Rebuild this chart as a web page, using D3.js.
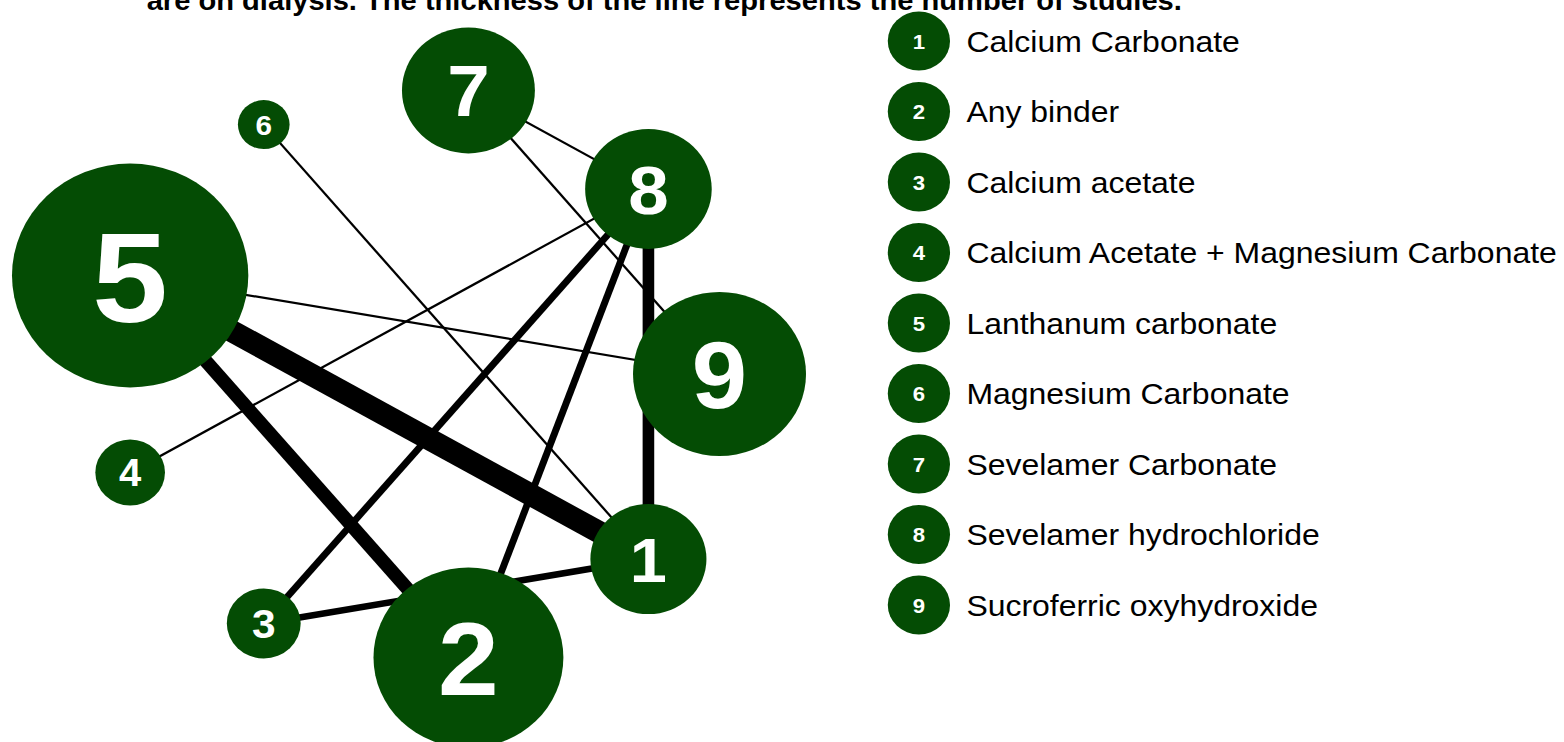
<!DOCTYPE html>
<html>
<head>
<meta charset="utf-8">
<script src="https://cdn.jsdelivr.net/npm/d3@7"></script>
<style>
  html, body { margin: 0; padding: 0; background: #fff; }
  svg { display: block; font-family: "Liberation Sans", Arial, sans-serif; }
</style>
</head>
<body>
<div id="chart-area"></div>
<script>
// Datos de la red
const nodeIds = [1, 2, 3, 4, 5, 6, 7, 8, 9];
const nodeNames = [
    "Calcium Carbonate",
    "Any binder",
    "Calcium acetate",
    "Calcium Acetate + Magnesium Carbonate",
    "Lanthanum carbonate",
    "Magnesium Carbonate",
    "Sevelamer Carbonate",
    "Sevelamer hydrochloride",
    "Sucroferric oxyhydroxide"
];
const nodeSize = [55, 90, 35, 33, 112, 24.5, 63, 60, 82];

// comparaciones: origen, destino, número de estudios
const edgeFrom = [5, 5, 8, 8, 8, 3, 8, 7, 7, 6, 5];
const edgeTo   = [1, 2, 1, 2, 3, 1, 4, 8, 9, 1, 9];
const edgeStudies = [10, 6, 5, 3, 3, 3, 1, 1, 1, 1, 1];

const titleText = "are on dialysis. The thickness of the line represents the number of studies.";

const green = "#044c04";
const stretch = 1.055; // la imagen original está algo estirada a lo ancho

const svg = d3.select("#chart-area")
    .append("svg")
    .attr("width", 1564)
    .attr("height", 742);

const g = svg.append("g")
    .attr("transform", `scale(${stretch},1)`);

// Título (cortado arriba, como en el original)
g.append("text")
    .attr("x", 139)
    .attr("y", 10)
    .attr("font-size", 27.6)
    .attr("font-weight", "bold")
    .attr("fill", "#000")
    .text(titleText);

// Escalas para la disposición circular
const x = d3.scaleLinear().domain([-1, 1]).range([394 - 288, 394 + 288]);
const y = d3.scaleLinear().domain([-1, 1]).range([374 - 288, 374 + 288]);
const width = d3.scaleLinear().domain([0, 1]).range([0, 2.2]);

const nodes = nodeIds.map((id, i) => {
    const a = (40 * id) * Math.PI / 180;
    return { id: id, name: nodeNames[i], r: nodeSize[i], x: x(Math.cos(a)), y: y(Math.sin(a)) };
});
const byId = new Map(nodes.map(d => [d.id, d]));

const edges = edgeFrom.map((s, i) => ({
    source: byId.get(s),
    target: byId.get(edgeTo[i]),
    n: edgeStudies[i]
}));

// Líneas
g.append("g").selectAll("line")
    .data(edges)
    .enter()
    .append("line")
    .attr("x1", d => d.source.x)
    .attr("y1", d => d.source.y)
    .attr("x2", d => d.target.x)
    .attr("y2", d => d.target.y)
    .attr("stroke", "#000")
    .attr("stroke-width", d => width(d.n));

// Nodos
const node = g.append("g").selectAll("g")
    .data(nodes)
    .enter()
    .append("g")
    .attr("transform", d => `translate(${d.x},${d.y})`);

node.append("circle")
    .attr("r", d => d.r)
    .attr("fill", green);

node.append("text")
    .attr("text-anchor", "middle")
    .attr("dy", "0.36em")
    .attr("font-size", d => d.r * 1.15)
    .attr("font-weight", "bold")
    .attr("fill", "#fff")
    .text(d => d.id);

// Leyenda
const ly = d3.scalePoint().domain(nodeIds).range([41, 605]);

const legend = g.append("g").selectAll("g")
    .data(nodes)
    .enter()
    .append("g")
    .attr("transform", d => `translate(871,${ly(d.id)})`);

legend.append("circle")
    .attr("r", 29.5)
    .attr("fill", green);

legend.append("text")
    .attr("text-anchor", "middle")
    .attr("dy", "0.36em")
    .attr("font-size", 21)
    .attr("font-weight", "bold")
    .attr("fill", "#fff")
    .text(d => d.id);

legend.append("text")
    .attr("x", 45)
    .attr("dy", "0.36em")
    .attr("font-size", 30.3)
    .attr("fill", "#000")
    .text(d => d.name);
</script>
</body>
</html>
